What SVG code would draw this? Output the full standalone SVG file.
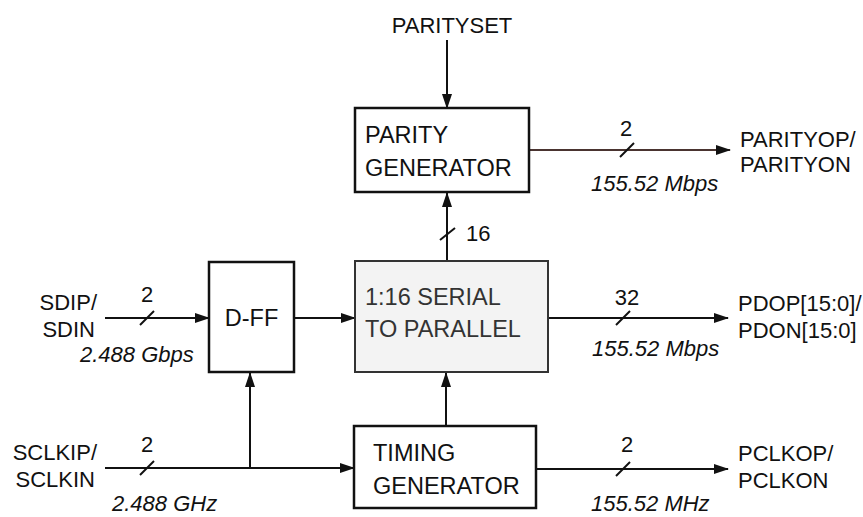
<svg xmlns="http://www.w3.org/2000/svg" width="863" height="517" viewBox="0 0 863 517">
<style>
.box{fill:#fff;stroke:#111;stroke-width:2.5}
.gray{fill:#f3f3f3;stroke:#333;stroke-width:2}
.w{stroke:#111;stroke-width:2;fill:none}
.sl{stroke:#111;stroke-width:2}
text{font-family:"Liberation Sans",Arial,sans-serif;fill:#111}
.lb{font-size:22px}
.bt{font-size:23.5px}
.it{font-size:22px;font-style:italic}
</style>
<defs>
<marker id="ah" markerUnits="userSpaceOnUse" markerWidth="15" markerHeight="10" refX="14" refY="5" orient="auto">
<path d="M0,0 L15,5 L0,10 z" fill="#111"/>
</marker>
</defs>
<rect width="863" height="517" fill="#fff"/>
<g id="connectors">
<line class="w" x1="447" y1="40" x2="447" y2="108" marker-end="url(#ah)"/>
<line class="w" x1="447" y1="261" x2="447" y2="193" marker-end="url(#ah)"/>
<line class="sl" x1="440" y1="240" x2="455" y2="228"/>
<line class="w" x1="446" y1="426" x2="446" y2="373" marker-end="url(#ah)"/>
<line class="w" x1="105" y1="318" x2="209" y2="318" marker-end="url(#ah)"/>
<line class="sl" x1="140" y1="325" x2="154" y2="311"/>
<line class="w" x1="294" y1="318" x2="355" y2="318" marker-end="url(#ah)"/>
<line class="w" x1="105" y1="468" x2="354" y2="468" marker-end="url(#ah)"/>
<line class="sl" x1="140" y1="475" x2="154" y2="461"/>
<line class="w" x1="250" y1="468" x2="250" y2="373" marker-end="url(#ah)"/>
<line class="w" x1="529" y1="150" x2="730" y2="150" marker-end="url(#ah)" style="stroke:#4a3430"/>
<line class="sl" x1="620" y1="157" x2="634" y2="143"/>
<line class="w" x1="548" y1="318" x2="728" y2="318" marker-end="url(#ah)"/>
<line class="sl" x1="616" y1="325" x2="630" y2="311"/>
<line class="w" x1="536" y1="469" x2="728" y2="469" marker-end="url(#ah)"/>
<line class="sl" x1="616" y1="476" x2="630" y2="462"/>
</g>
<g id="paritygen">
<rect class="box" x="355" y="108" width="174" height="84"/>
<text class="bt" x="365" y="143" fill="#333">PARITY</text>
<text class="bt" x="365" y="176" fill="#333">GENERATOR</text>
</g>
<g id="serial">
<rect class="gray" x="355" y="261" width="193" height="111"/>
<text class="bt" x="365" y="305" style="fill:#333">1:16 SERIAL</text>
<text class="bt" x="365" y="337" style="fill:#333">TO PARALLEL</text>
</g>
<g id="timing">
<rect class="box" x="354" y="426" width="182" height="82"/>
<text class="bt" x="373" y="461">TIMING</text>
<text class="bt" x="373" y="494">GENERATOR</text>
</g>
<g id="dff">
<rect class="box" x="209" y="262" width="85" height="110"/>
<text class="bt" x="251.5" y="326" text-anchor="middle">D-FF</text>
</g>
<g id="labels">
<text class="lb" x="452" y="33" text-anchor="middle" fill="#333">PARITYSET</text>
<text class="lb" x="626" y="136" text-anchor="middle" fill="#555">2</text>
<text class="it" x="591" y="191">155.52 Mbps</text>
<text class="lb" x="740" y="147">PARITYOP/</text>
<text class="lb" x="740" y="172">PARITYON</text>
<text class="lb" x="466" y="241">16</text>
<text class="lb" x="627" y="305" text-anchor="middle" fill="#555">32</text>
<text class="it" x="592" y="356" fill="#444">155.52 Mbps</text>
<text class="lb" x="738" y="311">PDOP[15:0]/</text>
<text class="lb" x="738" y="338">PDON[15:0]</text>
<text class="lb" x="627" y="452" text-anchor="middle">2</text>
<text class="it" x="591" y="511">155.52 MHz</text>
<text class="lb" x="738" y="461">PCLKOP/</text>
<text class="lb" x="738" y="488">PCLKON</text>
<text class="lb" x="97" y="310" text-anchor="end">SDIP/</text>
<text class="lb" x="95" y="337" text-anchor="end">SDIN</text>
<text class="lb" x="147" y="302" text-anchor="middle">2</text>
<text class="it" x="80" y="362">2.488 Gbps</text>
<text class="lb" x="97" y="460" text-anchor="end">SCLKIP/</text>
<text class="lb" x="95" y="487" text-anchor="end">SCLKIN</text>
<text class="lb" x="147" y="452" text-anchor="middle">2</text>
<text class="it" x="112" y="511">2.488 GHz</text>
</g>
</svg>
